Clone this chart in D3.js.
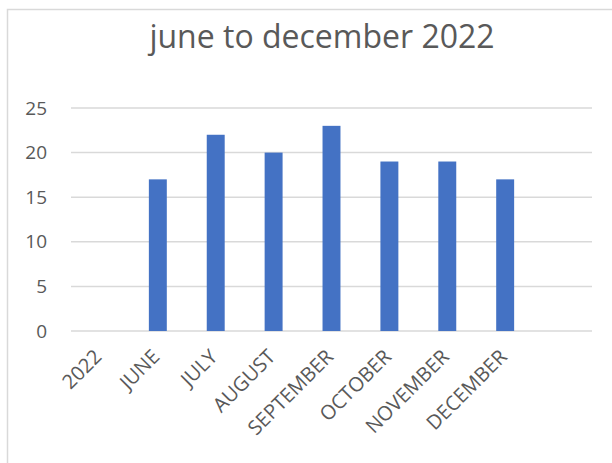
<!DOCTYPE html>
<html>
<head>
<meta charset="utf-8">
<script src="https://cdn.jsdelivr.net/npm/d3@7"></script>
<style>
  html, body { margin: 0; padding: 0; background: #fff; }
  svg { display: block; }
</style>
</head>
<body>
<svg id="chart"></svg>
<script>
// categories along the x axis (the last slot is empty in the original)
const categories = ["2022", "JUNE", "JULY", "AUGUST", "SEPTEMBER", "OCTOBER", "NOVEMBER", "DECEMBER", ""];
// bar values, null where no bar is drawn
const values = [null, 17, 22, 20, 23, 19, 19, 17, null];
const yTicks = [0, 5, 10, 15, 20, 25];
const title = "june to december 2022";

const outerWidth = 612;
const outerHeight = 463;
const margin = { top: 108, right: 20, bottom: 132, left: 71 };
const width = 592 - margin.left;
const height = 331 - margin.top;
const fontFamily = "'Open Sans', 'Noto Sans', sans-serif";

const svg = d3.select("#chart")
  .attr("width", outerWidth)
  .attr("height", outerHeight)
  .style("font-family", fontFamily);

// chart area border (only top and left visible in the reference)
svg.append("path")
  .attr("d", "M7.5,463 L7.5,9.5 L612,9.5")
  .attr("fill", "none")
  .attr("stroke", "#d9d9d9")
  .attr("stroke-width", 1.5);

// title
svg.append("text")
  .attr("x", 322)
  .attr("y", 48)
  .attr("text-anchor", "middle")
  .attr("fill", "#595959")
  .style("font-size", "32px")
  .text(title);

const g = svg.append("g")
  .attr("transform", "translate(" + margin.left + "," + margin.top + ")");

// scales
const x = d3.scaleBand()
  .domain(categories.map((c, i) => i))
  .range([0, width])
  .paddingInner(0.69)
  .paddingOuter(0.345);

const y = d3.scaleLinear()
  .domain([0, 25])
  .range([height, 0]);

// gridlines
g.selectAll(".grid")
  .data(yTicks)
  .enter()
  .append("line")
  .attr("x1", 0)
  .attr("x2", width)
  .attr("y1", d => y(d))
  .attr("y2", d => y(d))
  .attr("stroke", "#d9d9d9")
  .attr("stroke-width", 1.5);

// y axis labels
const yAxis = g.append("g")
  .call(d3.axisLeft(y).tickValues(yTicks).tickSize(0).tickPadding(24));
yAxis.select(".domain").remove();
yAxis.selectAll("text")
  .attr("fill", "#595959")
  .style("font-size", "19px")
  .style("font-family", fontFamily);

// bars
g.selectAll(".bar")
  .data(values.map((v, i) => ({ i: i, v: v })).filter(d => d.v !== null))
  .enter()
  .append("rect")
  .attr("class", "bar")
  .attr("x", d => x(d.i))
  .attr("y", d => y(d.v))
  .attr("width", x.bandwidth())
  .attr("height", d => height - y(d.v))
  .attr("fill", "#4472c4");

// x axis labels rotated -45
const xAxis = g.append("g")
  .attr("transform", "translate(0," + height + ")")
  .call(d3.axisBottom(x).tickSize(0).tickFormat(i => categories[i]));
xAxis.select(".domain").remove();
xAxis.selectAll("text")
  .attr("fill", "#595959")
  .style("font-size", "20px")
  .style("font-family", fontFamily)
  .attr("text-anchor", "end")
  .attr("dy", null)
  .attr("y", 0)
  .attr("transform", "translate(3,27) rotate(-45)");
</script>
</body>
</html>
